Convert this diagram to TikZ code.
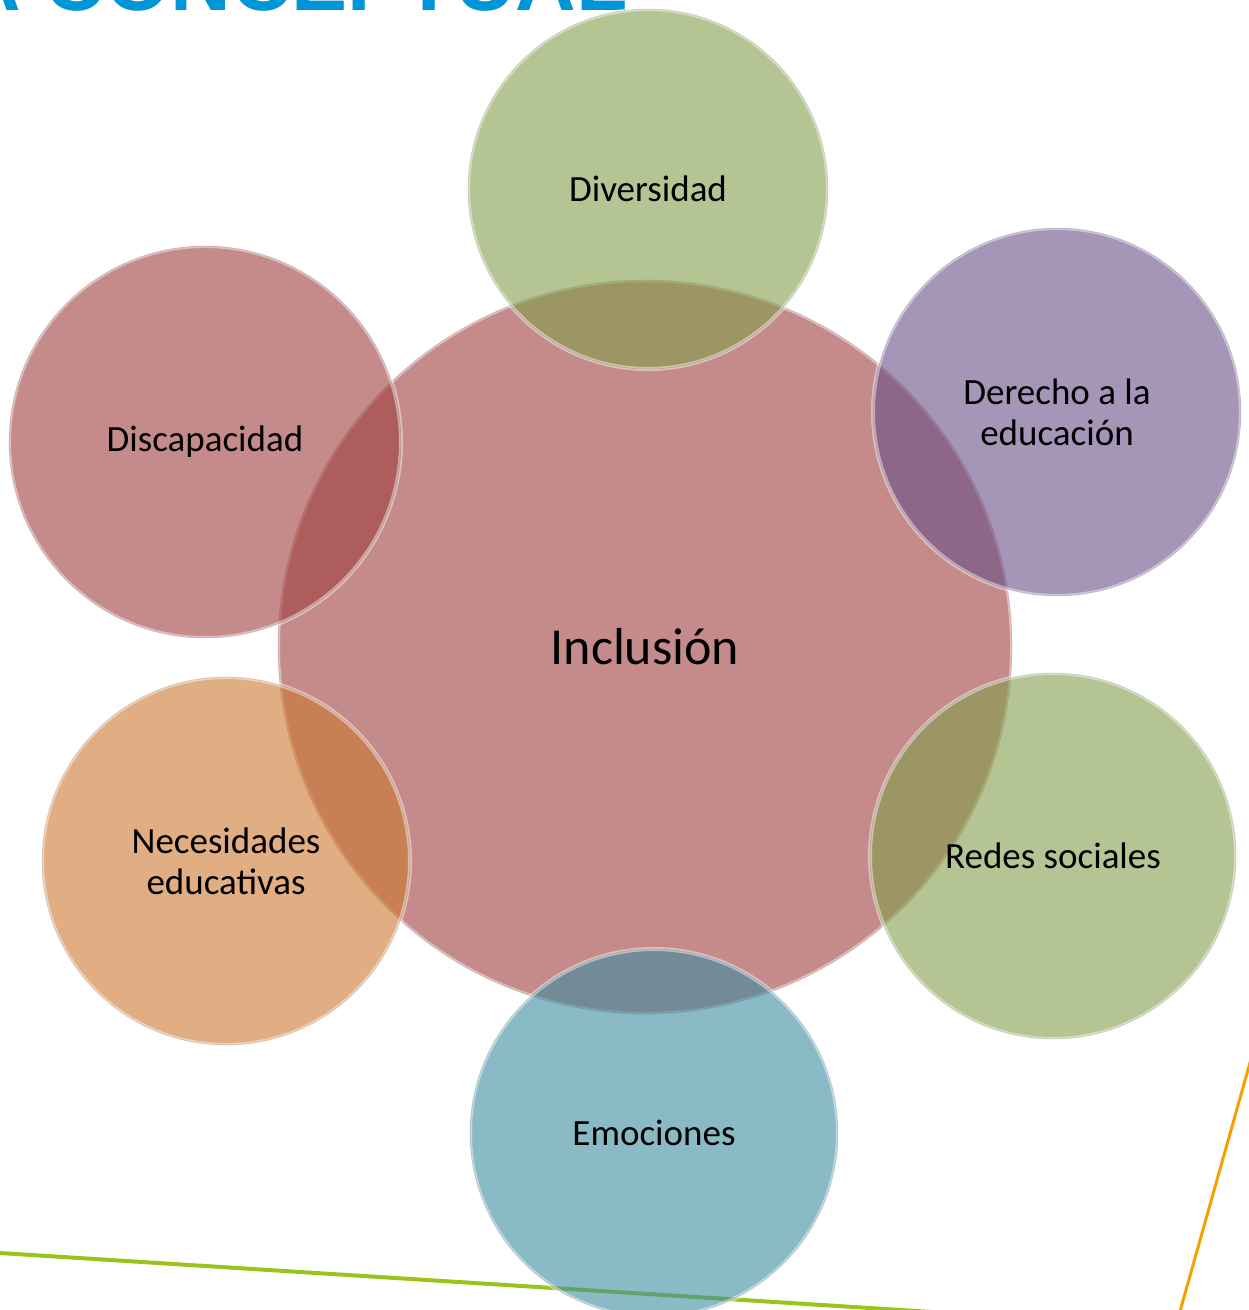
\documentclass[tikz,border=0pt]{standalone}
\usepackage{fontspec}
\setmainfont{Carlito}
\newfontfamily\titlefont{Liberation Sans}
\definecolor{rosec}{RGB}{157,62,60}
\definecolor{greenc}{RGB}{130,158,75}
\definecolor{purplec}{RGB}{105,78,135}
\definecolor{bluec}{RGB}{60,140,160}
\definecolor{orangec}{RGB}{203,120,47}
\definecolor{titleblue}{RGB}{0,149,214}
\definecolor{lineg}{RGB}{155,195,28}
\definecolor{lineo}{RGB}{245,160,0}
\tikzset{
  bubble/.style={circle, inner sep=0pt, align=center, fill opacity=0.6, text opacity=1,
    draw=white, draw opacity=0.45, line width=4pt,
    font=\fontsize{37}{41}\selectfont,
    postaction={draw=black, draw opacity=0.12, line width=0.8pt}},
  deco/.style={line width=4pt, line cap=round}
}
\begin{document}
\begin{tikzpicture}[x=1pt,y=-1pt]
\useasboundingbox (0,0) rectangle (1249,1310);
\clip (0,0) rectangle (1249,1310);
% title (cut off at top)
\node[anchor=base east, text=titleblue, inner sep=0pt,
  font=\titlefont\bfseries\fontsize{84}{90}\selectfont] (title) at (628,10) {MAPA CONCEPTUAL};
% decorative lines
\coordinate (g1) at (0,1253);
\coordinate (g2) at (1249,1332);
\coordinate (o1) at (1253,1052);
\coordinate (o2) at (1177,1322);
\draw[deco, draw=lineg] (g1) -- (g2);
\draw[deco, draw=lineo, line width=3pt] (o1) -- (o2);
% circles
\node[bubble, fill=rosec, minimum size=734pt, font=\fontsize{52}{60}\selectfont] (incl) at (645,647) {Inclusión};
\node[bubble, fill=greenc, minimum size=360pt] (div) at (648,189) {Diversidad};
\node[bubble, fill=purplec, minimum size=368pt] (der) at (1057,412) {Derecho a la\\educación};
\node[bubble, fill=greenc, minimum size=366pt] (red) at (1053,856) {Redes sociales};
\node[bubble, fill=bluec, minimum size=368pt] (emo) at (654,1133) {Emociones};
\node[bubble, fill=orangec, minimum size=368pt] (nec) at (226,861) {Necesidades\\educativas};
\node[bubble, fill=rosec, minimum size=392pt] (dis) at (205,442) {Discapacidad};
\end{tikzpicture}
\end{document}
